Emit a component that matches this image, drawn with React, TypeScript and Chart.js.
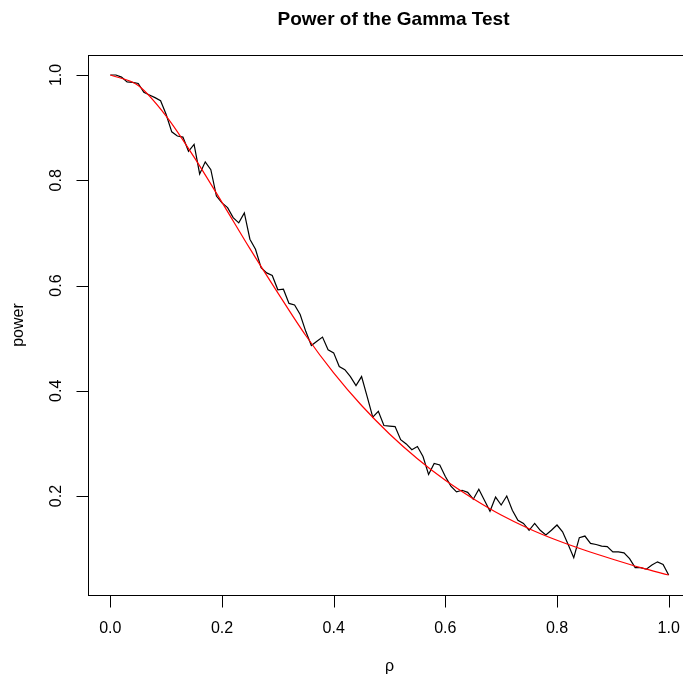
import { useEffect, useRef } from "react";
import { Chart, registerables } from "chart.js";

Chart.register(...registerables);

// simulated power at rho = 0.00, 0.01, ..., 1.00
const rho = [
  0.0, 0.01, 0.02, 0.03, 0.04, 0.05, 0.06, 0.07, 0.08, 0.09,
  0.1, 0.11, 0.12, 0.13, 0.14, 0.15, 0.16, 0.17, 0.18, 0.19,
  0.2, 0.21, 0.22, 0.23, 0.24, 0.25, 0.26, 0.27, 0.28, 0.29,
  0.3, 0.31, 0.32, 0.33, 0.34, 0.35, 0.36, 0.37, 0.38, 0.39,
  0.4, 0.41, 0.42, 0.43, 0.44, 0.45, 0.46, 0.47, 0.48, 0.49,
  0.5, 0.51, 0.52, 0.53, 0.54, 0.55, 0.56, 0.57, 0.58, 0.59,
  0.6, 0.61, 0.62, 0.63, 0.64, 0.65, 0.66, 0.67, 0.68, 0.69,
  0.7, 0.71, 0.72, 0.73, 0.74, 0.75, 0.76, 0.77, 0.78, 0.79,
  0.8, 0.81, 0.82, 0.83, 0.84, 0.85, 0.86, 0.87, 0.88, 0.89,
  0.9, 0.91, 0.92, 0.93, 0.94, 0.95, 0.96, 0.97, 0.98, 0.99,
  1.0,
];
const simulatedPower = [
  1.0, 1.0, 0.996, 0.987, 0.986, 0.984, 0.967, 0.962, 0.957, 0.951,
  0.925, 0.892, 0.884, 0.882, 0.855, 0.868, 0.812, 0.835, 0.82, 0.77,
  0.757, 0.748, 0.729, 0.719, 0.738, 0.688, 0.669, 0.634, 0.624, 0.619,
  0.592, 0.593, 0.566, 0.563, 0.545, 0.513, 0.486, 0.494, 0.502, 0.478,
  0.472, 0.446, 0.44, 0.427, 0.41, 0.427, 0.389, 0.35, 0.361, 0.334,
  0.333, 0.332, 0.307, 0.299, 0.288, 0.294, 0.275, 0.241, 0.262, 0.259,
  0.237, 0.219, 0.208, 0.211, 0.207, 0.194, 0.213, 0.192, 0.171, 0.198,
  0.183, 0.2, 0.173, 0.154, 0.148, 0.135, 0.148, 0.135, 0.126, 0.135,
  0.145, 0.132, 0.108, 0.083, 0.121, 0.124, 0.11, 0.108, 0.105, 0.104,
  0.094, 0.094, 0.092, 0.081, 0.064, 0.064, 0.061, 0.069, 0.075, 0.07,
  0.05,
];

// theoretical power curve, read at rho = 0.00, 0.05, ..., 1.00
const rhoTheory = [
  0.0, 0.05, 0.1, 0.15, 0.2, 0.25, 0.3, 0.35, 0.4, 0.45, 0.5,
  0.55, 0.6, 0.65, 0.7, 0.75, 0.8, 0.85, 0.9, 0.95, 1.0,
];
const theoreticalPower = [
  1.0, 0.98, 0.922, 0.844, 0.758, 0.67, 0.586, 0.505, 0.434, 0.372, 0.318,
  0.271, 0.23, 0.195, 0.164, 0.138, 0.116, 0.097, 0.08, 0.064, 0.05,
];

const xTicks = [0, 0.2, 0.4, 0.6, 0.8, 1.0];
const yTicks = [0.2, 0.4, 0.6, 0.8, 1.0];
const titleText = "Power of the Gamma Test";
const xTitle = "ρ";
const yTitle = "power";

const FONT = '"Liberation Sans", Arial, Helvetica, sans-serif';

const rPlotPlugin = {
  id: "rPlot",
  afterDraw(chart: any) {
    const { ctx, chartArea: a, scales } = chart;
    const xs = scales.x;
    const ys = scales.y;
    ctx.save();
    ctx.strokeStyle = "#000";
    ctx.lineWidth = 1;
    ctx.strokeRect(
      Math.round(a.left) + 0.5,
      Math.round(a.top) + 0.5,
      Math.round(a.right - a.left),
      Math.round(a.bottom - a.top)
    );
    ctx.beginPath();
    xTicks.forEach((v) => {
      const px = Math.round(xs.getPixelForValue(v)) + 0.5;
      ctx.moveTo(px, Math.round(a.bottom) + 0.5);
      ctx.lineTo(px, Math.round(a.bottom) + 12.5);
    });
    yTicks.forEach((v) => {
      const py = Math.round(ys.getPixelForValue(v)) + 0.5;
      ctx.moveTo(Math.round(a.left) + 0.5, py);
      ctx.lineTo(Math.round(a.left) - 11.5, py);
    });
    ctx.stroke();

    ctx.fillStyle = "#000";
    ctx.textAlign = "center";
    ctx.textBaseline = "middle";
    ctx.font = `16px ${FONT}`;
    xTicks.forEach((v) => {
      ctx.fillText(v.toFixed(1), xs.getPixelForValue(v), a.bottom + 34);
    });
    yTicks.forEach((v) => {
      ctx.save();
      ctx.translate(a.left - 31, ys.getPixelForValue(v));
      ctx.rotate(-Math.PI / 2);
      ctx.fillText(v.toFixed(1), 0, 0);
      ctx.restore();
    });
    const cx = (a.left + a.right) / 2;
    const cy = (a.top + a.bottom) / 2;
    ctx.fillText(xTitle, cx, a.bottom + 72);
    ctx.save();
    ctx.translate(19, cy);
    ctx.rotate(-Math.PI / 2);
    ctx.fillText(yTitle, 0, 0);
    ctx.restore();
    ctx.font = `bold 19px ${FONT}`;
    ctx.fillText(titleText, cx + 4, 20);
    ctx.restore();
  },
};

export default function App() {
  const ref = useRef<HTMLCanvasElement | null>(null);

  useEffect(() => {
    if (!ref.current) return;
    const chart = new Chart(ref.current, {
      type: "line",
      data: {
        datasets: [
          {
            label: "theoretical",
            data: rhoTheory.map((r, i) => ({ x: r, y: theoreticalPower[i] })),
            borderColor: "#ff0000",
            borderWidth: 1.2,
            pointRadius: 0,
            cubicInterpolationMode: "monotone",
            fill: false,
          },
          {
            label: "simulated",
            data: rho.map((r, i) => ({ x: r, y: simulatedPower[i] })),
            borderColor: "#000000",
            borderWidth: 1.2,
            pointRadius: 0,
            tension: 0,
            fill: false,
          },
        ],
      },
      options: {
        animation: false,
        responsive: false,
        devicePixelRatio: 1,
        layout: { padding: { top: 55, right: 9, left: 0, bottom: 0 } },
        plugins: {
          legend: { display: false },
          title: { display: false },
          tooltip: { enabled: false },
        },
        scales: {
          x: {
            type: "linear",
            min: -0.04,
            max: 1.04,
            grid: { display: false },
            border: { display: false },
            ticks: { display: false },
            afterFit: (s: any) => {
              s.height = 87;
            },
          },
          y: {
            type: "linear",
            min: 0.012,
            max: 1.038,
            grid: { display: false },
            border: { display: false },
            ticks: { display: false },
            afterFit: (s: any) => {
              s.width = 88;
            },
          },
        },
      },
      plugins: [rPlotPlugin],
    });
    return () => chart.destroy();
  }, []);

  return (
    <div
      style={{
        position: "fixed",
        left: 0,
        top: 0,
        width: 683,
        height: 682,
        overflow: "hidden",
        background: "#fff",
      }}
    >
      <canvas ref={ref} width={700} height={682} style={{ display: "block" }} />
    </div>
  );
}
